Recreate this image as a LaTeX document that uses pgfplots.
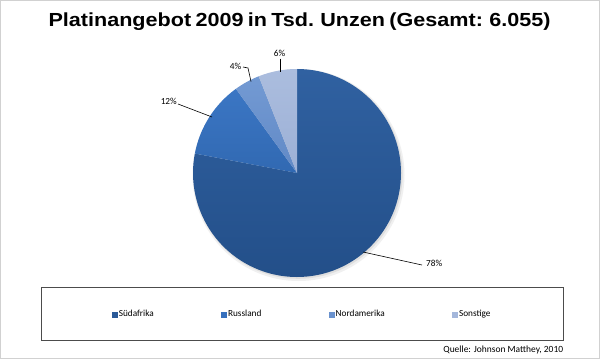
\documentclass[border=0pt]{standalone}
\usepackage{fontspec}
\setmainfont{Carlito}
\newfontfamily\titlefont{Liberation Sans}[FakeStretch=1.14, WordSpace=0.72]
\usepackage{pgfplots}
\usepackage{pgfplotstable}
\pgfplotsset{compat=1.18}

\definecolor{sAtop}{HTML}{3061A1}
\definecolor{sAbot}{HTML}{234F89}
\definecolor{sA}{HTML}{2B5A98}
\definecolor{sBtop}{HTML}{3B76C4}
\definecolor{sBbot}{HTML}{3169B2}
\definecolor{sB}{HTML}{3670BD}
\definecolor{sCtop}{HTML}{739AD3}
\definecolor{sCbot}{HTML}{6189C6}
\definecolor{sC}{HTML}{6A92CE}
\definecolor{sDtop}{HTML}{ABBDDE}
\definecolor{sDbot}{HTML}{9CB0D6}
\definecolor{sD}{HTML}{A4B7DB}

% share of supply in percent (as labelled in the chart)
\pgfplotstableread{
idx value
0 78
1 12
2 4
3 6
}\piedata

\begin{document}
\begin{tikzpicture}
\pgfplotstablegetelem{0}{value}\of\piedata \let\vA\pgfplotsretval
\pgfplotstablegetelem{1}{value}\of\piedata \let\vB\pgfplotsretval
\pgfplotstablegetelem{2}{value}\of\piedata \let\vC\pgfplotsretval
\pgfplotstablegetelem{3}{value}\of\piedata \let\vD\pgfplotsretval
\pgfmathsetmacro\aA{90}
\pgfmathsetmacro\aB{\aA-3.6*\vA}
\pgfmathsetmacro\aC{\aB-3.6*\vB}
\pgfmathsetmacro\aD{\aC-3.6*\vC}
\pgfmathsetmacro\aE{\aD-3.6*\vD}
\begin{axis}[
  x=1bp, y=1bp,
  xmin=0, xmax=600, ymin=0, ymax=359,
  scale only axis,
  axis lines=none,
  clip=false,
  legend columns=4,
  legend style={at={(axis cs:302,44.5)}, anchor=center, draw=none, fill=none,
    font=\fontsize{9.3}{11}\selectfont, inner sep=0pt,
    nodes={inner sep=1.4bp},
    /tikz/every even column/.append style={column sep=66bp}},
]
\fill[white] (axis cs:0,0) rectangle (axis cs:600,359);
\draw[black!18, line width=1bp] (axis cs:0.5,0.5) rectangle (axis cs:599.5,358.5);

\addplot[forget plot, draw=none] coordinates {(0,0)};

% shadow
\fill[black!6] (axis cs:298.5,184) circle[radius=106bp];
\fill[black!13] (axis cs:298,184.8) circle[radius=104.6bp];

% slices
\path[top color=sAtop, bottom color=sAbot] (axis cs:297,186) -- ++(\aA:104bp) arc[start angle=\aA, end angle=\aB, radius=104bp] -- cycle;
\path[top color=sBtop, bottom color=sBbot] (axis cs:297,186) -- ++(\aB:104bp) arc[start angle=\aB, end angle=\aC, radius=104bp] -- cycle;
\path[top color=sCtop, bottom color=sCbot] (axis cs:297,186) -- ++(\aC:104bp) arc[start angle=\aC, end angle=\aD, radius=104bp] -- cycle;
\path[top color=sDtop, bottom color=sDbot] (axis cs:297,186) -- ++(\aD:104bp) arc[start angle=\aD, end angle=\aE, radius=104bp] -- cycle;

% leader lines and labels
\draw[black, line width=0.6bp] (axis cs:363,107) -- (axis cs:422,94);
\node[anchor=west, inner sep=0pt, font=\fontsize{9.3}{11}\selectfont] at (axis cs:426,96) {78\%};
\draw[black, line width=0.6bp] (axis cs:178,255) -- (axis cs:212,242);
\node[anchor=east, inner sep=0pt, font=\fontsize{9.3}{11}\selectfont] at (axis cs:177,258) {12\%};
\draw[black, line width=0.6bp] (axis cs:243,292) -- (axis cs:248,291) -- (axis cs:251,277.5);
\node[inner sep=0pt, font=\fontsize{9.3}{11}\selectfont] at (axis cs:235.5,292.5) {4\%};
\draw[black, line width=0.6bp] (axis cs:280,300.5) -- (axis cs:280,287);
\node[inner sep=0pt, font=\fontsize{9.3}{11}\selectfont] at (axis cs:279.5,305.7) {6\%};

% title
\node[anchor=base, inner sep=0pt] at (axis cs:299.5,333) {\titlefont\bfseries\fontsize{19}{22}\selectfont Platinangebot 2009 in Tsd. Unzen (Gesamt: 6.055)};

% legend frame
\draw[black!70, line width=0.8bp] (axis cs:41,19) rectangle (axis cs:563,72);

\addlegendimage{legend image code/.code={\fill[sA] (0bp,-2.5bp) rectangle (5bp,2.5bp);}}
\addlegendentry{Südafrika}
\addlegendimage{legend image code/.code={\fill[sB] (0bp,-2.5bp) rectangle (5bp,2.5bp);}}
\addlegendentry{Russland}
\addlegendimage{legend image code/.code={\fill[sC] (0bp,-2.5bp) rectangle (5bp,2.5bp);}}
\addlegendentry{Nordamerika}
\addlegendimage{legend image code/.code={\fill[sD] (0bp,-2.5bp) rectangle (5bp,2.5bp);}}
\addlegendentry{Sonstige}

% source
\node[anchor=base east, inner sep=0pt, font=\fontsize{9.5}{11}\selectfont] at (axis cs:563.3,6.7) {Quelle: Johnson Matthey, 2010};
\end{axis}
\end{tikzpicture}
\end{document}
